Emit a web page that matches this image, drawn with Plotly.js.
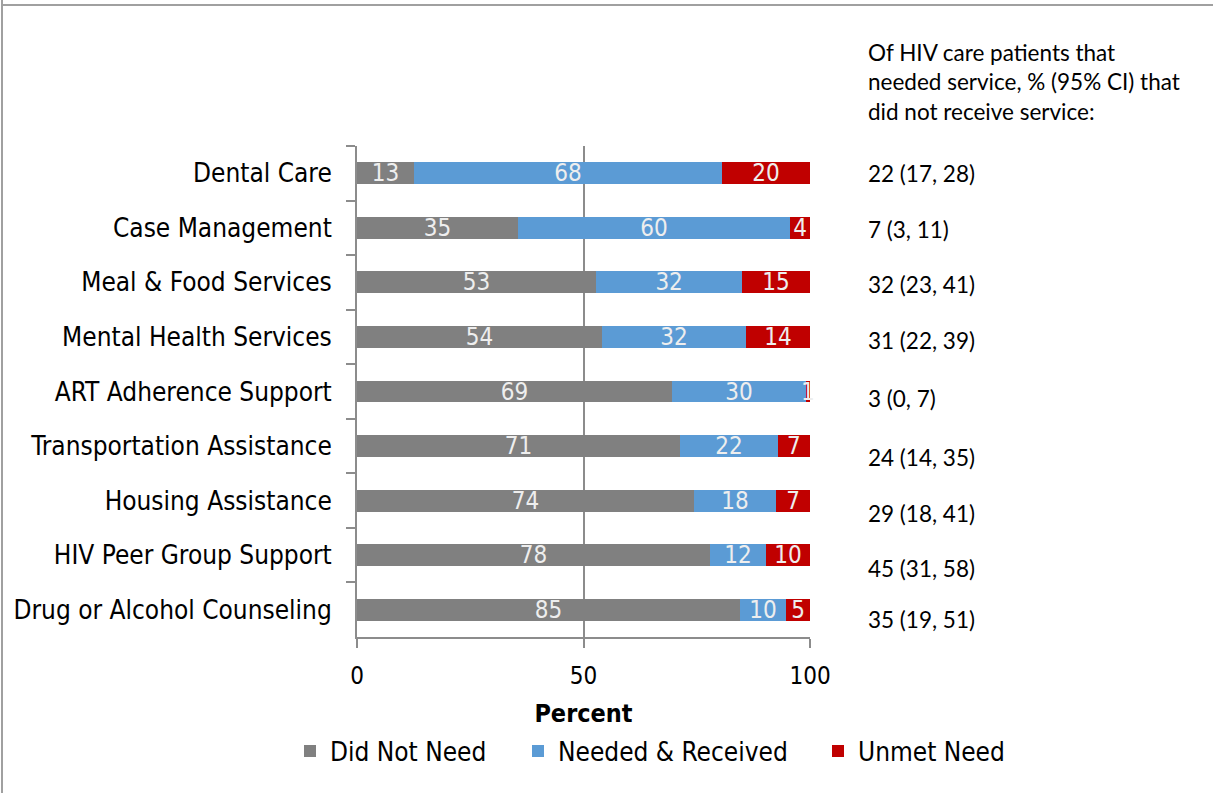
<!DOCTYPE html>
<html>
<head>
<meta charset="utf-8">
<script src="https://cdn.plot.ly/plotly-3.0.1.min.js"></script>
<style>
  html, body { margin: 0; padding: 0; background: #fff; }
  #chart { width: 1214px; height: 793px; }
</style>
</head>
<body>
<div id="chart"></div>
<script>
// ---- data ----
const categories = [
  "Dental Care", "Case Management", "Meal & Food Services", "Mental Health Services",
  "ART Adherence Support", "Transportation Assistance", "Housing Assistance",
  "HIV Peer Group Support", "Drug or Alcohol Counseling"
];
const didNotNeed = [12.6, 35.5, 52.8, 54.1, 69.5, 71.3, 74.4, 77.9, 84.5];
const neededReceived = [68.0, 60.1, 32.2, 31.8, 29.6, 21.6, 18.1, 12.4, 10.2];
const unmetNeed = [19.4, 4.4, 15.0, 14.1, 0.9, 7.1, 7.5, 9.7, 5.3];
const didNotNeedLabels = ["13", "35", "53", "54", "69", "71", "74", "78", "85"];
const neededReceivedLabels = ["68", "60", "32", "32", "30", "22", "18", "12", "10"];
const unmetNeedLabels = ["20", "4", "15", "14", "1", "7", "7", "10", "5"];
const unmetCI = ["22 (17, 28)", "7 (3, 11)", "32 (23, 41)", "31 (22, 39)", "3 (0, 7)",
  "24 (14, 35)", "29 (18, 41)", "45 (31, 58)", "35 (19, 51)"];
const headerLines = ["Of HIV care patients that", "needed service, % (95% CI) that", "did not receive service:"];
const seriesNames = ["Did Not Need", "Needed & Received", "Unmet Need"];
const xTickVals = [0, 50, 100];

// ---- layout geometry (pixels) ----
const W = 1214, H = 793;
const L = 357, R = 810, T = 146, B = 637;
const pw = R - L, ph = B - T;
const px = x => (x - L) / pw;
const py = y => (B - y) / ph;

const mainFont = "DejaVu Sans Condensed, DejaVu Sans, sans-serif";
const noteFont = "Lato, Carlito, sans-serif";
const colors = ["#808080", "#5b9bd5", "#c00000"];

function barTrace(vals, labels, i, legendId) {
  return {
    type: "bar", orientation: "h",
    x: vals, y: categories,
    name: seriesNames[i],
    legend: legendId,
    marker: { color: colors[i], line: { width: 0 } },
    text: labels, textposition: "inside", insidetextanchor: "middle",
    textangle: 0,
    textfont: { family: mainFont, size: 24, color: "#eeeeee" },
    constraintext: "none", cliponaxis: false,
    hoverinfo: "skip"
  };
}

const data = [
  barTrace(didNotNeed, didNotNeedLabels, 0, "legend"),
  barTrace(neededReceived, neededReceivedLabels, 1, "legend2"),
  barTrace(unmetNeed, unmetNeedLabels, 2, "legend3")
];

const ciY = [173, 229, 284, 340, 398, 457, 513, 568, 619];
const headerY = [52, 82, 111];
const noteSize = 22.5;
const annotations = [];
headerLines.forEach((t, i) => annotations.push({
  xref: "paper", yref: "paper", x: px(866), y: py(headerY[i]),
  xanchor: "left", yanchor: "middle", showarrow: false, text: t,
  font: { family: noteFont, size: noteSize, color: "#000" }
}));
unmetCI.forEach((t, i) => annotations.push({
  xref: "paper", yref: "paper", x: px(866), y: py(ciY[i]),
  xanchor: "left", yanchor: "middle", showarrow: false, text: t,
  font: { family: noteFont, size: noteSize, color: "#000" }
}));

const legendBase = {
  orientation: "h", yanchor: "middle", xanchor: "left",
  y: py(751), bgcolor: "rgba(0,0,0,0)", borderwidth: 0,
  font: { family: mainFont, size: 26, color: "#000" }
};

const layout = {
  width: W, height: H,
  margin: { l: L, r: W - R, t: T, b: H - B, pad: 0 },
  paper_bgcolor: "#fff", plot_bgcolor: "#fff",
  barmode: "stack", bargap: 0.6,
  uniformtext: { mode: "show", minsize: 24 },
  xaxis: {
    range: [0, 100.0001], tickvals: xTickVals, ticktext: xTickVals.map(String),
    showgrid: true, gridcolor: "#8c8c8c", gridwidth: 2,
    zeroline: false, showline: true, linecolor: "#8c8c8c", linewidth: 2,
    ticks: "outside", ticklen: 9, tickwidth: 2, tickcolor: "#8c8c8c",
    ticklabelstandoff: 7,
    tickfont: { family: mainFont, size: 24, color: "#000" },
    title: { text: "<b>Percent</b>", font: { family: mainFont, size: 25, color: "#000" }, standoff: 16 },
    fixedrange: true
  },
  yaxis: {
    type: "category", autorange: "reversed",
    showgrid: false, zeroline: false,
    showline: true, linecolor: "#8c8c8c", linewidth: 2,
    ticks: "outside", tickson: "boundaries", ticklen: 9, tickwidth: 2, tickcolor: "#8c8c8c",
    ticklabelstandoff: 18,
    tickfont: { family: mainFont, size: 26, color: "#000" },
    fixedrange: true
  },
  showlegend: true,
  legend: Object.assign({}, legendBase, { x: px(290) }),
  legend2: Object.assign({}, legendBase, { x: px(518) }),
  legend3: Object.assign({}, legendBase, { x: px(818) }),
  annotations: annotations,
  shapes: [
    { type: "line", xref: "paper", yref: "paper", x0: px(2), x1: px(2), y0: py(0), y1: py(H),
      line: { color: "#a0a0a0", width: 2 } },
    { type: "line", xref: "paper", yref: "paper", x0: px(1), x1: px(1213), y0: py(5), y1: py(5),
      line: { color: "#a0a0a0", width: 2 } }
  ]
};

Plotly.newPlot("chart", data, layout, { displayModeBar: false, staticPlot: true });
</script>
</body>
</html>
